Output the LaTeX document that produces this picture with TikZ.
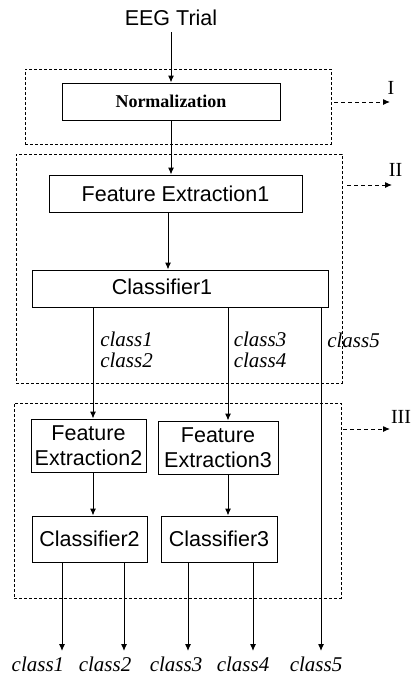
\documentclass[tikz,border=0pt]{standalone}
\usepackage{fontspec}
\setmainfont{Liberation Serif}
\newfontfamily\arial{Liberation Sans}
\usetikzlibrary{arrows.meta}
\begin{document}
\begin{tikzpicture}[x=1pt,y=-1pt,
  every node/.style={inner sep=0pt},
  sans/.style={font=\arial\fontsize{21.5}{25}\selectfont},
  box/.style={draw, line width=1pt, fill=white, align=center, sans},
  group/.style={draw, line width=0.9pt, dash pattern=on 3pt off 2pt},
  arr/.style={-{Latex[length=7pt,width=6pt]}, line width=1pt},
  darr/.style={arr, dash pattern=on 4pt off 3pt},
  lab/.style={font=\fontsize{21}{20.7}\selectfont\itshape, align=left},
  roman/.style={font=\fontsize{20}{20}\selectfont}]
\useasboundingbox (0,0) rectangle (411,677);

% groups
\node[group, minimum width=306, minimum height=75] (g1) at (178,106.5) {};
\node[group, minimum width=326, minimum height=229] (g2) at (179,268.5) {};
\node[group, minimum width=327, minimum height=195] (g3) at (177.5,500.5) {};

% nodes
\node[sans] (eeg) at (171,18) {EEG Trial};
\node[box, minimum width=218, minimum height=37, font=\bfseries\fontsize{18}{18}\selectfont] (norm) at (171,101.5) {Normalization};
\node[box, minimum width=253, minimum height=37] (fe1) at (175.5,193.5) {Feature Extraction1};
\node[box, minimum width=296, minimum height=37] (c1) at (180,288.5) {};
\node[sans] (c1t) at (162,287) {Classifier1};
\node[box, minimum width=115, minimum height=53] (fe2) at (88.5,445.5) {Feature\\Extraction2};
\node[box, minimum width=120, minimum height=53] (fe3) at (218,447.5) {Feature\\Extraction3};
\node[box, minimum width=115, minimum height=46] (c2) at (89.5,539) {Classifier2};
\node[box, minimum width=116, minimum height=46] (c3) at (219,539) {Classifier3};

% labels
\node[lab] (l12) at (126.5,350) {class1\\class2};
\node[lab] (l34) at (260,350) {class3\\class4};
\node[lab] (l5) at (353.5,340) {class5};
\node[lab] (o1) at (38,664) {class1};
\node[lab] (o2) at (105,664) {class2};
\node[lab] (o3) at (176,664) {class3};
\node[lab] (o4) at (243,664) {class4};
\node[lab] (o5) at (316,664) {class5};
\node[roman] (rI) at (391,88) {I};
\node[roman] (rII) at (395.5,169.5) {II};
\node[roman] (rIII) at (401,417) {III};

% coordinates
\coordinate (xa) at (93,0);
\coordinate (xb) at (228,0);
\coordinate (xc) at (321,0);
\coordinate (xf) at (168,0);
\coordinate (e1) at (62,651);
\coordinate (e2) at (124,651);
\coordinate (e3) at (188,651);
\coordinate (e4) at (253,651);
\coordinate (e5) at (321,651);
\coordinate (d1) at (390,102);
\coordinate (d2) at (392,185);
\coordinate (d3) at (390,429);

% connectors
\draw[arr, shorten <=6pt] (eeg.south) -- (eeg.south |- norm.north);
\draw[arr] (norm.south) -- (norm.south |- fe1.north);
\draw[arr] (fe1.south -| xf) -- (c1.north -| xf);
\draw[arr] (c1.south -| xa) -- (fe2.north -| xa);
\draw[arr] (c1.south -| xb) -- (fe3.north -| xb);
\draw[arr] (c1.south -| xc) -- (e5);
\draw[arr] (fe2.south -| xa) -- (c2.north -| xa);
\draw[arr] (fe3.south -| xb) -- (c3.north -| xb);
\draw[arr] (c2.south -| e1) -- (e1);
\draw[arr] (c2.south -| e2) -- (e2);
\draw[arr] (c3.south -| e3) -- (e3);
\draw[arr] (c3.south -| e4) -- (e4);

\draw[darr, shorten <=3pt] (g1.east |- d1) -- (d1);
\draw[darr, shorten <=5pt] (g2.east |- d2) -- (d2);
\draw[darr, shorten <=2pt] (g3.east |- d3) -- (d3);
\end{tikzpicture}
\end{document}
